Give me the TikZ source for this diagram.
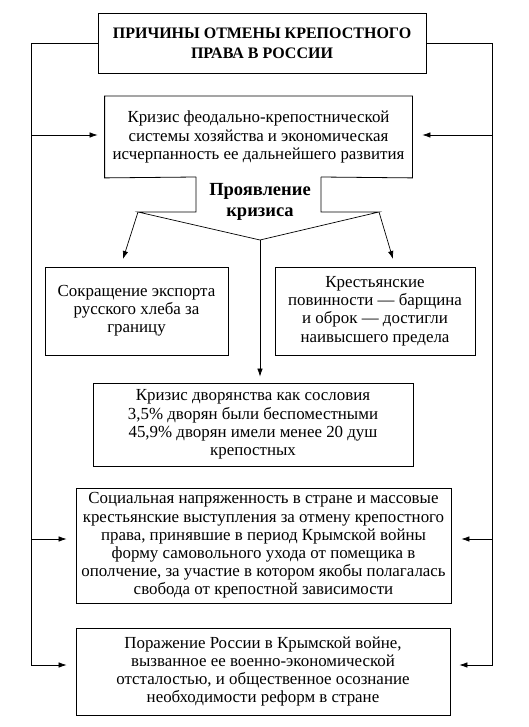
\documentclass[tikz,border=0pt]{standalone}
\usepackage{fontspec}
\setmainfont{Liberation Serif}
\usetikzlibrary{arrows.meta,calc}
\begin{document}
\begin{tikzpicture}[x=1pt,y=-1pt,
 box/.style={draw,line width=0.8pt,inner sep=0pt,align=center,font=\fontsize{16.9}{18.2}\selectfont},
 conn/.style={line width=0.7pt},
 arr/.style={conn,-{Latex[length=8pt,width=5.5pt]}},
]
\useasboundingbox (0,0) rectangle (529,727);
% title
\node[box,font=\bfseries\fontsize{16}{20}\selectfont,minimum width=328pt,minimum height=60pt] (title) at (262,43) {ПРИЧИНЫ ОТМЕНЫ КРЕПОСТНОГО\\ПРАВА В РОССИИ};
% crisis box (open at the bottom)
\node[box,draw=none,minimum width=307pt,minimum height=81pt] (crisis) at (258.5,137) {Кризис феодально-крепостнической\\системы хозяйства и экономическая\\исчерпанность ее дальнейшего развития};
\coordinate (gL) at (196,177);
\coordinate (gR) at (321,177);
\draw[line width=0.8pt] (gL) -- (crisis.south west) -- (crisis.north west) -- (crisis.north east) -- (crisis.south east) -- (gR);
\node[font=\bfseries\fontsize{18.5}{20.5}\selectfont,align=center,inner sep=0pt] (manif) at (260,202) {Проявление\\кризиса};
% funnel
\coordinate (fL) at (138,212);
\coordinate (fR) at (379,212);
\coordinate (hub) at (260,240);
\draw[conn] (gL) -- (gL |- fL) -- (fL) -- (hub) -- (fR) -- (gR |- fR) -- (gR);
% manifestation boxes
\node[box,minimum width=183pt,minimum height=88pt] (export) at (136.5,311) {Сокращение экспорта\\русского хлеба за\\границу};
\node[box,minimum width=200pt,minimum height=88pt] (duties) at (375,311) {Крестьянские\\повинности — барщина\\и оброк — достигли\\наивысшего предела};
\node[box,minimum width=320pt,minimum height=83pt] (nobles) at (253,424.5) {Кризис дворянства как сословия\\3,5\% дворян были беспоместными\\45,9\% дворян имели менее 20 душ\\крепостных};
\coordinate (aL) at (123,259);
\coordinate (aR) at (393,259);
\draw[arr] (fL) -- (aL);
\draw[arr] (fR) -- (aR);
\draw[arr,shorten >=6pt] (hub) -- (hub |- nobles.north);
% lower boxes
\node[box,minimum width=375pt,minimum height=115pt] (social) at (263.5,545.5) {Социальная напряженность в стране и массовые\\крестьянские выступления за отмену крепостного\\права, принявшие в период Крымской войны\\форму самовольного ухода от помещика в\\ополчение, за участие в котором якобы полагалась\\свобода от крепостной зависимости};
\node[box,minimum width=374pt,minimum height=87pt] (defeat) at (263,671.5) {Поражение России в Крымской войне,\\вызванное ее военно-экономической\\отсталостью, и общественное осознание\\необходимости реформ в стране};
% trunks
\coordinate (tL) at (31,43);
\coordinate (tR) at (492,43);
\coordinate (L2) at (31,135);
\coordinate (R2) at (492,135);
\coordinate (L6) at (31,539);
\coordinate (R6) at (492,539);
\coordinate (L7) at (31,665);
\coordinate (R7) at (492,665);
\draw[arr,shorten >=9pt] (title.west) -- (tL) -- (L7) -- (defeat.west |- L7);
\draw[arr,shorten >=9pt] (title.east) -- (tR) -- (R7) -- (defeat.east |- R7);
\draw[arr,shorten >=7pt] (L2) -- (crisis.west |- L2);
\draw[arr,shorten >=10pt] (R2) -- (crisis.east |- R2);
\draw[arr,shorten >=9pt] (L6) -- (social.west |- L6);
\draw[arr,shorten >=10pt] (R6) -- (social.east |- R6);
\end{tikzpicture}
\end{document}
